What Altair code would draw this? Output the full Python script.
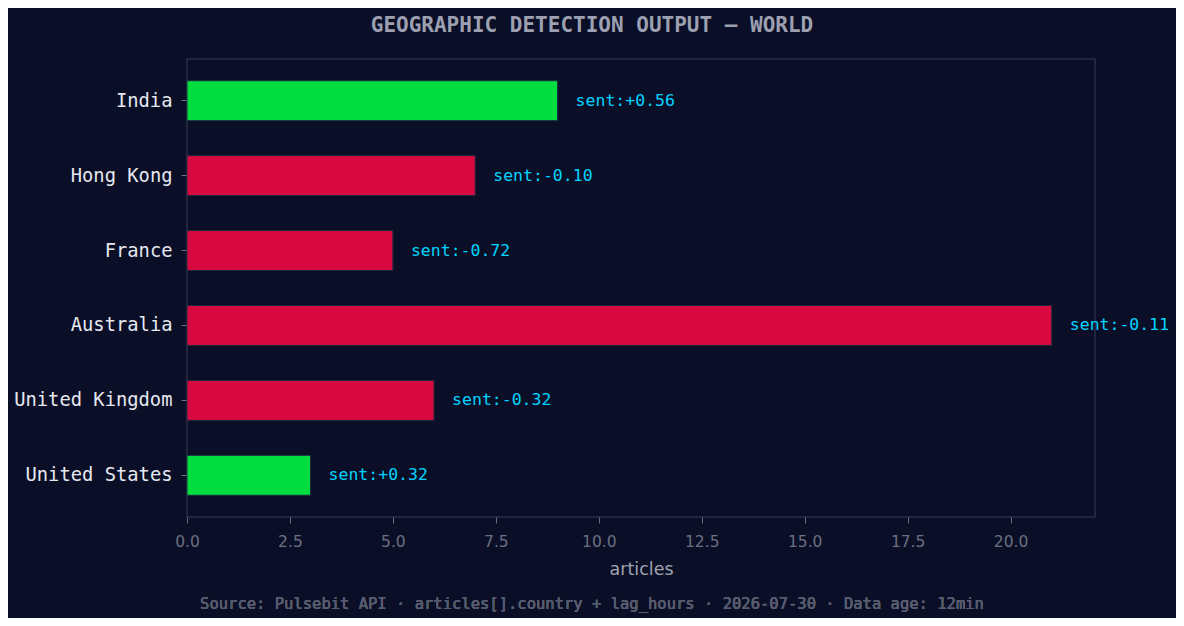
import altair as alt
import pandas as pd

countries = ["India", "Hong Kong", "France", "Australia", "United Kingdom", "United States"]
articles = [9, 7, 5, 21, 6, 3]
sentiment = [0.56, -0.10, -0.72, -0.11, -0.32, 0.32]

df = pd.DataFrame({
    "country": countries,
    "articles": articles,
    "sent": sentiment,
})
df["label"] = df["sent"].map(lambda v: f"sent:{v:+.2f}")
df["pos"] = df["sent"].map(lambda v: "pos" if v >= 0 else "neg")

BG = "#0a0e27"

y_enc = alt.Y("country:N", sort=countries, title=None,
              scale=alt.Scale(paddingInner=0.467, paddingOuter=0.29),
              axis=alt.Axis(labelFont="DejaVu Sans Mono", labelFontSize=18.8,
                            labelColor="#e6e8f0", tickColor="#6b7080", tickSize=6,
                            domain=False, labelPadding=9))
x_enc = alt.X("articles:Q", title="articles",
              scale=alt.Scale(domain=[0, 22.05], nice=False),
              axis=alt.Axis(values=[0, 2.5, 5, 7.5, 10, 12.5, 15, 17.5, 20], format=".1f",
                            labelFont="DejaVu Sans", labelFontSize=15.5, labelColor="#6b7080",
                            labelFlush=False,
                            tickColor="#6b7080", tickSize=6, domain=False, grid=False,
                            titleFont="DejaVu Sans", titleFontSize=17.5, titleColor="#a0a4b0",
                            titleFontWeight="normal", titlePadding=11, labelPadding=11))

bars = alt.Chart(df).mark_bar(stroke="#1e2a40", strokeWidth=1).encode(
    y=y_enc, x=x_enc,
    color=alt.Color("pos:N", scale=alt.Scale(domain=["pos", "neg"], range=["#00dd3f", "#d7093f"]),
                    legend=None),
)

labels = alt.Chart(df).mark_text(align="left", baseline="middle", dx=18,
                                 font="DejaVu Sans Mono", fontSize=16.5, color="#00d4ff").encode(
    y=alt.Y("country:N", sort=countries), x="articles:Q", text="label:N"
)

footer = alt.Chart(df).mark_text(font="DejaVu Sans Mono", fontSize=15.5, color="#565b6d",
                                 fontWeight="normal",
                                 align="center", baseline="middle").encode(
    x=alt.value(405), y=alt.value(545), text=alt.value(
        "Source: Pulsebit API · articles[].country + lag_hours · 2026-07-30 · Data age: 12min")
)

chart = alt.layer(bars, labels, footer).properties(
    width=908, height=458,
    background=BG,
    padding={"left": 179, "top": 51, "right": 81, "bottom": 101},
    autosize=alt.AutoSizeParams(type="none"),
    title=alt.TitleParams("GEOGRAPHIC DETECTION OUTPUT — WORLD", font="DejaVu Sans Mono",
                          fontSize=21, fontWeight="bold", color="#9ca0b0", anchor="middle",
                          dx=-49, offset=23),
).configure_view(stroke="#2a2f4a", strokeWidth=1.5, fill=BG)

chart.save("out.html", embed_options={"renderer": "svg", "actions": False})
